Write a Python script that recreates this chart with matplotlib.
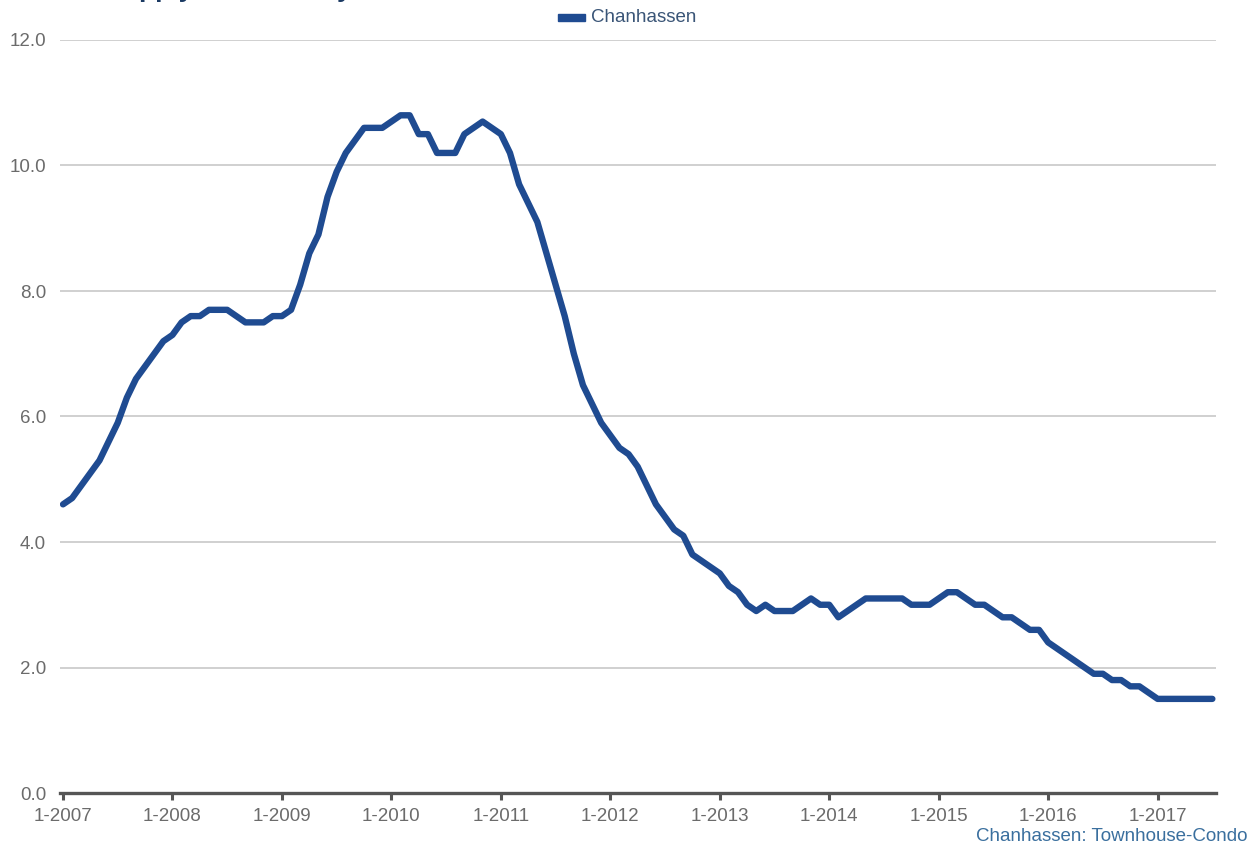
import numpy as np
import matplotlib
matplotlib.use("Agg")
import matplotlib.pyplot as plt
from matplotlib.patches import Rectangle

plt.rcParams["font.family"] = ["Liberation Sans", "DejaVu Sans"]

# Months supply of inventory, monthly from 1-2007 to 7-2017
START_YEAR = 2007
months_supply = [
    4.6, 4.7, 4.9, 5.1, 5.3, 5.6, 5.9, 6.3, 6.6, 6.8, 7.0, 7.2,          # 2007
    7.3, 7.5, 7.6, 7.6, 7.7, 7.7, 7.7, 7.6, 7.5, 7.5, 7.5, 7.6,          # 2008
    7.6, 7.7, 8.1, 8.6, 8.9, 9.5, 9.9, 10.2, 10.4, 10.6, 10.6, 10.6,     # 2009
    10.7, 10.8, 10.8, 10.5, 10.5, 10.2, 10.2, 10.2, 10.5, 10.6, 10.7, 10.6,  # 2010
    10.5, 10.2, 9.7, 9.4, 9.1, 8.6, 8.1, 7.6, 7.0, 6.5, 6.2, 5.9,       # 2011
    5.7, 5.5, 5.4, 5.2, 4.9, 4.6, 4.4, 4.2, 4.1, 3.8, 3.7, 3.6,         # 2012
    3.5, 3.3, 3.2, 3.0, 2.9, 3.0, 2.9, 2.9, 2.9, 3.0, 3.1, 3.0,         # 2013
    3.0, 2.8, 2.9, 3.0, 3.1, 3.1, 3.1, 3.1, 3.1, 3.0, 3.0, 3.0,         # 2014
    3.1, 3.2, 3.2, 3.1, 3.0, 3.0, 2.9, 2.8, 2.8, 2.7, 2.6, 2.6,         # 2015
    2.4, 2.3, 2.2, 2.1, 2.0, 1.9, 1.9, 1.8, 1.8, 1.7, 1.7, 1.6,         # 2016
    1.5, 1.5, 1.5, 1.5, 1.5, 1.5, 1.5,                                  # 2017
]
tick_years = list(range(2007, 2018))
y_ticks = [0, 2, 4, 6, 8, 10, 12]

series_name = "Chanhassen"
source_note = "Chanhassen: Townhouse-Condo"
chart_title = "Months Supply of Inventory"

LINE_BLUE = "#1f4b91"
GRID_GRAY = "#d0d0d0"
TICK_GRAY = "#6b6b6b"
FS = 13.5

fig = plt.figure(figsize=(12.55, 8.46), dpi=100)
ax = fig.add_axes([60 / 1255, 53 / 846, 1156 / 1255, 753 / 846])

x = np.arange(len(months_supply))
ax.plot(x, months_supply, color=LINE_BLUE, linewidth=4.6,
        solid_joinstyle="round", solid_capstyle="round", zorder=3)

ax.set_xlim(-0.33, 126.4)
ax.set_ylim(0, 12)

# horizontal grid only, bottom spine as the axis line
ax.set_yticks(y_ticks)
ax.set_yticklabels([f"{v:.1f}" for v in y_ticks])
ax.grid(axis="y", color=GRID_GRAY, linewidth=1.4)
ax.set_axisbelow(True)
for side in ["top", "right", "left"]:
    ax.spines[side].set_visible(False)
ax.spines["bottom"].set_color("#555555")
ax.spines["bottom"].set_linewidth(2.4)
ax.spines["bottom"].set_zorder(4)

tick_pos = [(yr - START_YEAR) * 12 for yr in tick_years]
ax.set_xticks(tick_pos)
ax.set_xticklabels([f"1-{yr}" for yr in tick_years])
ax.tick_params(axis="x", direction="out", length=5, width=2.2,
               color="#555555", labelsize=FS, labelcolor=TICK_GRAY, pad=6)
ax.tick_params(axis="y", length=0, labelsize=FS, labelcolor=TICK_GRAY, pad=10)

# legend drawn by hand at top center
fig.patches.append(Rectangle((558 / 1255, 1 - 21 / 846), 27 / 1255, 7 / 846,
                             transform=fig.transFigure, color=LINE_BLUE))
fig.text(591 / 1255, 1 - 18 / 846, series_name, fontsize=FS,
         color="#3a5577", va="center", ha="left")

fig.text(1247 / 1255, 1 - 836 / 846, source_note, fontsize=FS,
         color="#3a6f9e", va="center", ha="right")

# title sits mostly above the visible area
fig.text(4 / 1255, 1 + 3 / 846, chart_title, fontsize=19, fontweight="bold",
         color="#1b3a63", va="baseline", ha="left")

fig.savefig("out.png", dpi=100)
